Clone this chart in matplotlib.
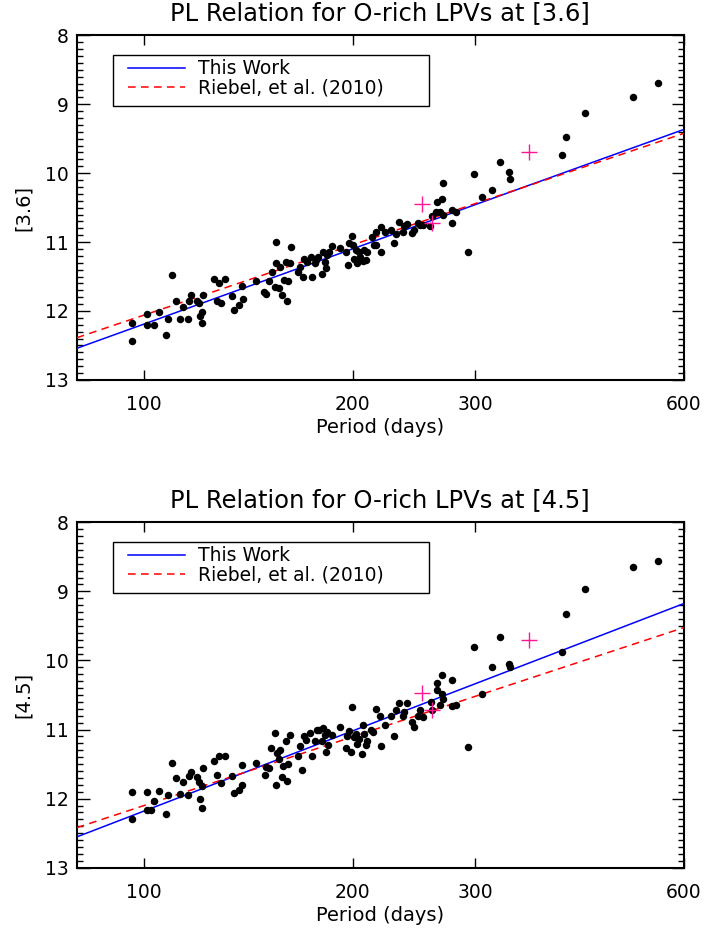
import numpy as np
import matplotlib
matplotlib.use("Agg")
import matplotlib.pyplot as plt
from matplotlib.patches import Rectangle
from matplotlib.ticker import MultipleLocator, NullLocator

per36 = [96.2, 96.2, 101, 101, 103.3, 105.1, 107.4, 108.4, 109.7, 111.1,
         112.5, 113.8, 115.6, 116.1, 116.7, 119.2, 119.9, 120.3, 121.3, 121.4,
         121.7, 126.1, 127.6, 128.3, 129.3, 130.7, 134.0, 134.8, 136.9, 138.4,
         138.9, 145.0, 148.8, 150.0, 151.4, 152.9, 154.8, 155.1, 154.6, 156.6,
         157.1, 157.9, 159.1, 160.0, 160.7, 161.5, 162.3, 162.6, 166.5, 167.6,
         169.2, 170.3, 171.8, 174.1, 174.6, 176.2, 177.1, 178.1, 180.3, 181.1,
         182.1, 182.7, 183.5, 184.8, 186.7, 191.7, 195.6, 196.6, 197.2, 199.5,
         200.0, 200.5, 201.8, 202.8, 204.2, 205.1, 206.5, 207.5, 208.6, 209.6,
         212.8, 214.3, 215.8, 216.3, 219.3, 219.8, 222.3,
         227.2, 229.2, 231.0, 233.1, 236.2, 236.7, 239.6, 243.6, 244.7, 248.2,
         250.2, 252.4, 258.6, 260.3, 263.2, 264.4, 266.7, 269.1, 269.6, 269.6,
         277.5, 278.1, 281.2, 293.0, 299.2, 306.9, 316.9, 325.5, 336.1, 336.5,
         400.6, 406.0, 432.1, 507.6, 550.5]
mag36 = [12.17, 12.44, 12.04, 12.21, 12.21, 12.01, 12.35, 12.11, 11.48, 11.85,
         12.12, 11.94, 12.11, 11.86, 11.77, 11.85, 11.88, 12.08, 12.01, 12.18,
         11.77, 11.53, 11.85, 11.59, 11.88, 11.54, 11.78, 11.98, 11.91, 11.64,
         11.83, 11.56, 11.72, 11.75, 11.57, 11.43, 11.00, 11.31, 11.65, 11.67,
         11.36, 11.77, 11.55, 11.29, 11.86, 11.56, 11.31, 11.07, 11.43, 11.36,
         11.51, 11.24, 11.29, 11.21, 11.50, 11.31, 11.26, 11.21, 11.47, 11.14,
         11.29, 11.37, 11.19, 11.15, 11.06, 11.08, 11.15, 11.33, 11.02, 10.91,
         11.04, 11.24, 11.12, 11.31, 11.14, 11.21, 11.27, 11.12, 11.26, 11.14,
         10.93, 11.04, 10.86, 11.04, 10.78, 11.15, 10.86,
         10.83, 11.02, 10.88, 10.71, 10.85, 10.77, 10.74, 10.87, 10.83, 10.73,
         10.75, 10.75, 10.77, 10.62, 10.56, 10.42, 10.57, 10.37, 10.14, 10.61,
         10.53, 10.72, 10.57, 11.14, 10.01, 10.34, 10.25, 9.84, 9.99, 10.08,
         9.73, 9.48, 9.12, 8.90, 8.69]

per45 = [96.2, 96.2, 101, 101, 102.2, 103.3, 105.1, 107.4, 108.4, 109.7,
         111.1, 112.5, 113.8, 115.6, 116.1, 116.7, 119.2, 119.9, 120.3, 121.4,
         121.7, 121.3, 126.1, 127.6, 128.3, 129.1, 130.7, 134.0, 134.8, 136.9,
         138.4, 138.6, 145.0, 149.6, 150.0, 151.4, 152.6, 154.6, 154.8, 155.4,
         156.6, 157.1, 157.9, 158.7, 160.0, 160.7, 161.5, 162.3, 166.8, 167.6,
         169.0, 170.2, 171.4, 173.6, 174.6, 176.2, 177.5, 178.6, 180.5, 181.1,
         182.1, 182.7, 183.5, 184.2, 186.7, 191.7, 195.2, 196.4, 197.2, 198.9,
         199.5, 200.5, 201.8, 202.8, 204.2, 206.0, 206.5, 207.5, 208.6, 209.6,
         212.3, 213.5, 215.8, 219.1, 219.8, 222.8,
         227.2, 229.2, 230.4, 233.1, 236.2, 236.7, 239.6, 243.6, 244.7, 248.2,
         250.2, 252.4, 259.5, 260.3, 264.4, 264.4, 266.7, 269.1, 269.1, 269.6,
         277.5, 278.1, 281.2, 293.0, 299.2, 306.9, 316.9, 325.5, 336.1, 336.5,
         400.6, 406.0, 432.1, 507.6, 550.5]
mag45 = [11.90, 12.29, 11.91, 12.17, 12.17, 12.03, 11.89, 12.22, 11.95, 11.49,
         11.70, 11.93, 11.76, 11.95, 11.67, 11.61, 11.69, 11.76, 12.01, 12.14,
         11.55, 11.82, 11.46, 11.66, 11.38, 11.78, 11.39, 11.67, 11.92, 11.87,
         11.52, 11.80, 11.48, 11.66, 11.54, 11.56, 11.27, 11.05, 11.81, 11.34,
         11.43, 11.29, 11.69, 11.53, 11.16, 11.75, 11.50, 11.08, 11.39, 11.24,
         11.58, 11.09, 11.15, 11.05, 11.39, 11.17, 11.00, 11.01, 11.16, 10.98,
         11.08, 11.32, 11.04, 11.22, 11.08, 10.97, 11.27, 11.10, 11.02, 11.32,
         10.67, 11.11, 11.06, 11.21, 11.13, 11.35, 10.93, 11.06, 11.22, 11.16,
         11.00, 11.04, 10.71, 10.81, 11.24, 10.93,
         10.81, 11.09, 10.72, 10.62, 10.81, 10.74, 10.61, 10.89, 10.96, 10.81,
         10.72, 10.82, 10.60, 10.72, 10.32, 10.43, 10.64, 10.21, 10.48, 10.56,
         10.29, 10.66, 10.64, 11.25, 9.81, 10.49, 10.10, 9.66, 10.05, 10.09,
         9.88, 9.33, 8.96, 8.64, 8.56]

# magenta crosses
per_cross = [251.5, 260.0, 358.4]
mag_cross36 = [10.45, 10.72, 9.70]
mag_cross45 = [10.47, 10.72, 9.71]

# PL fits: M = slope * log10(P) + zp
fit_this36 = (-3.63, 19.45)
fit_riebel36 = (-3.39, 18.84)
fit_this45 = (-3.86, 19.90)
fit_riebel45 = (-3.31, 18.72)

titles = ["PL Relation for O-rich LPVs at [3.6]", "PL Relation for O-rich LPVs at [4.5]"]
ylabels = ["[3.6]", "[4.5]"]
xtick_vals = [100, 200, 300, 600]

fig = plt.figure(figsize=(7.05, 9.31), dpi=100)
ax1 = fig.add_axes([0.109, 0.592, 0.861, 0.370])
ax2 = fig.add_axes([0.109, 0.068, 0.861, 0.371])

panels = [
    (ax1, per36, mag36, mag_cross36, fit_this36, fit_riebel36),
    (ax2, per45, mag45, mag_cross45, fit_this45, fit_riebel45),
]

for i, (ax, per, mag, magc, fthis, friebel) in enumerate(panels):
    ax.set_xscale("log")
    ax.set_xlim(80, 600)
    ax.set_ylim(13, 8)
    xx = np.array(ax.get_xlim())
    ax.plot(xx, fthis[0] * np.log10(xx) + fthis[1], color="blue", lw=1.1,
            label="This Work", zorder=3)
    ax.plot(xx, friebel[0] * np.log10(xx) + friebel[1], color="red", lw=1.1,
            ls=(0, (5, 3.5)), label="Riebel, et al. (2010)", zorder=3)
    ax.scatter(per, mag, s=29, color="black", zorder=4, linewidths=0)
    ax.plot(per_cross, magc, ls="none", marker="+", ms=11, mew=1.0,
            color="#ff1493", zorder=5)

    ax.set_xticks(xtick_vals)
    ax.set_xticklabels([str(v) for v in xtick_vals])
    ax.xaxis.set_minor_locator(NullLocator())
    ax.yaxis.set_major_locator(MultipleLocator(1))
    ax.yaxis.set_minor_locator(MultipleLocator(0.1))
    ax.tick_params(which="both", direction="in", top=True, right=True,
                   labelsize=13.5, width=1)
    ax.tick_params(axis="y", which="major", length=9, pad=6)
    ax.tick_params(axis="x", which="major", length=7, pad=11)
    ax.tick_params(which="minor", length=4.5)
    for sp in ax.spines.values():
        sp.set_linewidth(1.5)

    ax.set_title(titles[i], fontsize=17.5, pad=11)
    ax.set_xlabel("Period (days)", fontsize=14, labelpad=3)
    ax.set_ylabel(ylabels[i], fontsize=14)
    ax.yaxis.set_label_coords(-0.072, 0.5)

    # legend box drawn separately so it matches the original frame size
    ax.add_patch(Rectangle((0.059, 0.794), 0.521, 0.148, transform=ax.transAxes,
                           facecolor="white", edgecolor="black", lw=1.0, zorder=6))
    leg = ax.legend(loc="upper left", bbox_to_anchor=(0.084, 0.93),
                    borderaxespad=0, borderpad=0, fontsize=13.5, frameon=False,
                    handlelength=3.05, handletextpad=0.7, labelspacing=0.0)
    leg.set_zorder(7)

fig.savefig("out.png", dpi=100)
